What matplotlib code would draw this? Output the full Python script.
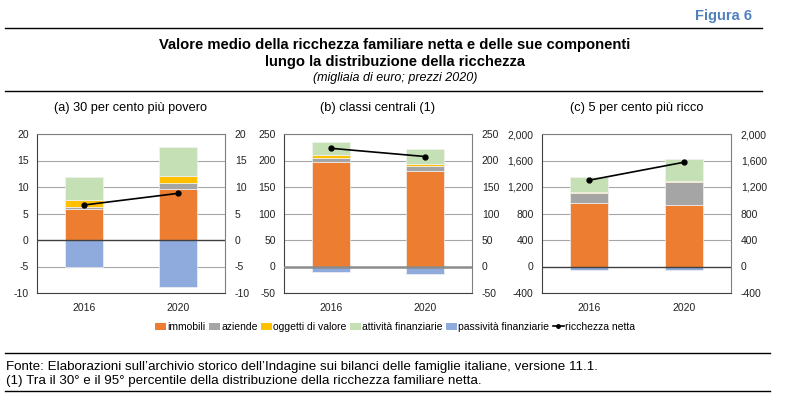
import numpy as np
import matplotlib
matplotlib.use("Agg")
import matplotlib.pyplot as plt
from matplotlib.patches import Patch
from matplotlib.lines import Line2D
from matplotlib.ticker import FuncFormatter

plt.rcParams['font.family'] = ['Liberation Sans Narrow', 'Liberation Sans', 'DejaVu Sans']
plt.rcParams['axes.unicode_minus'] = False

years = ['2016', '2020']
series_names = ['immobili', 'aziende', 'oggetti di valore', 'attività finanziarie', 'passività finanziarie']
net_name = 'ricchezza netta'
colors = ['#ED7D31', '#A5A5A5', '#FFC000', '#C5E0B4', '#8FAADC']

panel_titles = ['(a) 30 per cento più povero', '(b) classi centrali (1)', '(c) 5 per cento più ricco']

# values in thousands of euro, per panel: [2016, 2020]
immobili = [[5.8, 9.7], [197.5, 180.5], [962, 922]]
aziende = [[0.5, 1.1], [8.0, 8.3], [140, 346]]
oggetti = [[1.2, 1.3], [4.5, 3.7], [30, 30]]
attivita = [[4.3, 5.4], [24.0, 28.5], [221, 325]]
passivita = [[-5.1, -8.9], [-11.0, -15.0], [-55, -55]]
netta = [[6.6, 8.8], [223, 207.5], [1303, 1573]]

ylims = [(-10, 20), (-50, 250), (-400, 2000)]
ysteps = [5, 50, 400]

W, H = 790, 394
fig = plt.figure(figsize=(W / 100, H / 100), dpi=100)


def px_axes(x0, y0, x1, y1):
    return fig.add_axes([x0 / W, 1 - y1 / H, (x1 - x0) / W, (y1 - y0) / H])


boxes = [(37, 134, 225, 293), (284, 134, 472, 293), (542, 134, 731, 293)]
x = np.arange(len(years))

for i, box in enumerate(boxes):
    ax = px_axes(*box)
    lo, hi = ylims[i]
    ticks = np.arange(lo, hi + 1, ysteps[i])
    ax.set_ylim(lo, hi)
    ax.set_xlim(-0.5, 1.5)
    ax.set_yticks(ticks)
    for t in ticks:
        if t != 0:
            ax.axhline(t, color='#A6A6A6', lw=0.8, zorder=0)
    bottom_pos = np.zeros(2)
    for vals, c in zip([immobili[i], aziende[i], oggetti[i], attivita[i]], colors[:4]):
        v = np.array(vals)
        ax.bar(x, v, 0.4, bottom=bottom_pos, color=c, edgecolor='#F2F2F2', lw=0.5, zorder=2)
        bottom_pos += v
    ax.bar(x, passivita[i], 0.4, color=colors[4], edgecolor='#F2F2F2', lw=0.5, zorder=2)
    ax.axhline(0, color='#404040' if i != 1 else '#8C8C8C', lw=1.0 if i != 1 else 1.8, zorder=3)
    ax.plot(x, netta[i], color='black', marker='o', ms=3.5, lw=1.2, zorder=4)
    ax.set_xticks(x)
    ax.set_xticklabels(years)
    for s in ax.spines.values():
        s.set_color('#7F7F7F')
        s.set_linewidth(0.8)
    ax.spines['left'].set_color('#404040')
    ax.spines['bottom'].set_color('#404040')
    ax.tick_params(length=0, labelsize=7.5, pad=6, labelcolor='#222222')
    ax.tick_params(axis='x', pad=7)
    ax2 = ax.twinx()
    ax2.set_ylim(lo, hi)
    ax2.set_yticks(ticks)
    ax2.tick_params(length=0, labelsize=7.5, pad=7, labelcolor='#222222')
    for s in ax2.spines.values():
        s.set_visible(False)
    if i == 2:
        fmt = FuncFormatter(lambda v, p: f'{int(v):,}')
        ax.yaxis.set_major_formatter(fmt)
        ax2.yaxis.set_major_formatter(fmt)
    cx = (box[0] + box[2]) / 2 / W
    fig.text(cx, 1 - 108 / H, panel_titles[i], ha='center', va='center', fontsize=9.2)

# header
fig.text(752 / W, 1 - 16 / H, 'Figura 6', ha='right', va='center', fontsize=10.5,
         color='#4F81BD', fontweight='bold')
fig.add_artist(Line2D([5 / W, 762 / W], [1 - 28 / H] * 2, color='black', lw=1.0))
fig.text(395 / W, 1 - 45 / H, 'Valore medio della ricchezza familiare netta e delle sue componenti',
         ha='center', va='center', fontsize=10.6, fontweight='bold')
fig.text(395 / W, 1 - 62 / H, 'lungo la distribuzione della ricchezza',
         ha='center', va='center', fontsize=10.6, fontweight='bold')
fig.text(395 / W, 1 - 78 / H, '(migliaia di euro; prezzi 2020)',
         ha='center', va='center', fontsize=9, style='italic')
fig.add_artist(Line2D([5 / W, 762 / W], [1 - 91 / H] * 2, color='black', lw=1.0))

# legend
handles = [Patch(facecolor=c, edgecolor='none') for c in colors]
handles.append(Line2D([], [], color='black', marker='o', ms=2.5, lw=1.2))
fig.legend(handles, series_names + [net_name], loc='center', bbox_to_anchor=(395 / W, 1 - 327 / H),
           ncol=6, frameon=False, fontsize=7.5, handlelength=1.1, handleheight=0.7,
           handletextpad=0.1, columnspacing=0.3, borderaxespad=0)

# footer
fig.add_artist(Line2D([5 / W, 770 / W], [1 - 353 / H] * 2, color='black', lw=1.0))
fig.text(6 / W, 1 - 367 / H,
         'Fonte: Elaborazioni sull’archivio storico dell’Indagine sui bilanci delle famiglie italiane, versione 11.1.',
         ha='left', va='center', fontsize=9.6)
fig.text(6 / W, 1 - 381 / H,
         '(1) Tra il 30° e il 95° percentile della distribuzione della ricchezza familiare netta.',
         ha='left', va='center', fontsize=9.6)
fig.add_artist(Line2D([5 / W, 770 / W], [1 - 391 / H] * 2, color='black', lw=1.0))

fig.savefig('out.png', dpi=100)
